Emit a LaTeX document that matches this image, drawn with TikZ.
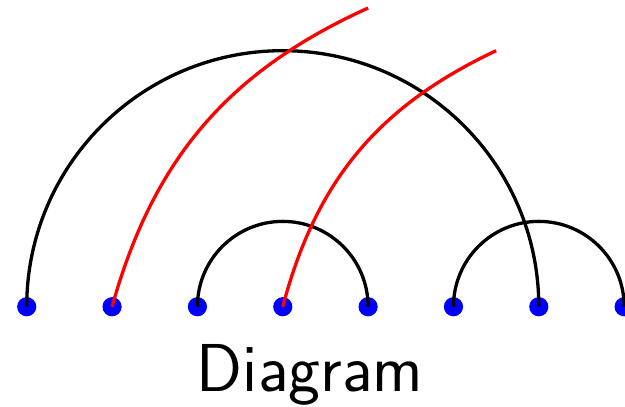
\documentclass[tikz,border=0pt]{standalone}
\begin{document}
\begin{tikzpicture}[
  dot/.style={circle,fill=blue,inner sep=0pt,minimum size=6.4pt},
  blackarc/.style={draw=black,line width=1.1pt},
  redcurve/.style={draw=red,line width=1.1pt},
]
\useasboundingbox (-0.313,-1.164) rectangle (7.01,3.594);
\foreach \i in {1,...,8} {
  \node[dot] (d\i) at (\i-1,0) {};
}
\coordinate (r1) at (4,3.5);
\coordinate (r2) at (5.5,3);
\draw[blackarc] (d1.center) arc[start angle=180,end angle=0,radius=3];
\draw[blackarc] (d3.center) arc[start angle=180,end angle=0,radius=1];
\draw[blackarc] (d6.center) arc[start angle=180,end angle=0,radius=1];
\draw[redcurve] (d2.center) to[bend left=25] (r1);
\draw[redcurve] (d4.center) to[bend left=25] (r2);
\node[anchor=base,font=\sffamily\fontsize{22.6}{27}\selectfont] (label) at (3.32,-0.996) {Diagram};
\end{tikzpicture}
\end{document}
